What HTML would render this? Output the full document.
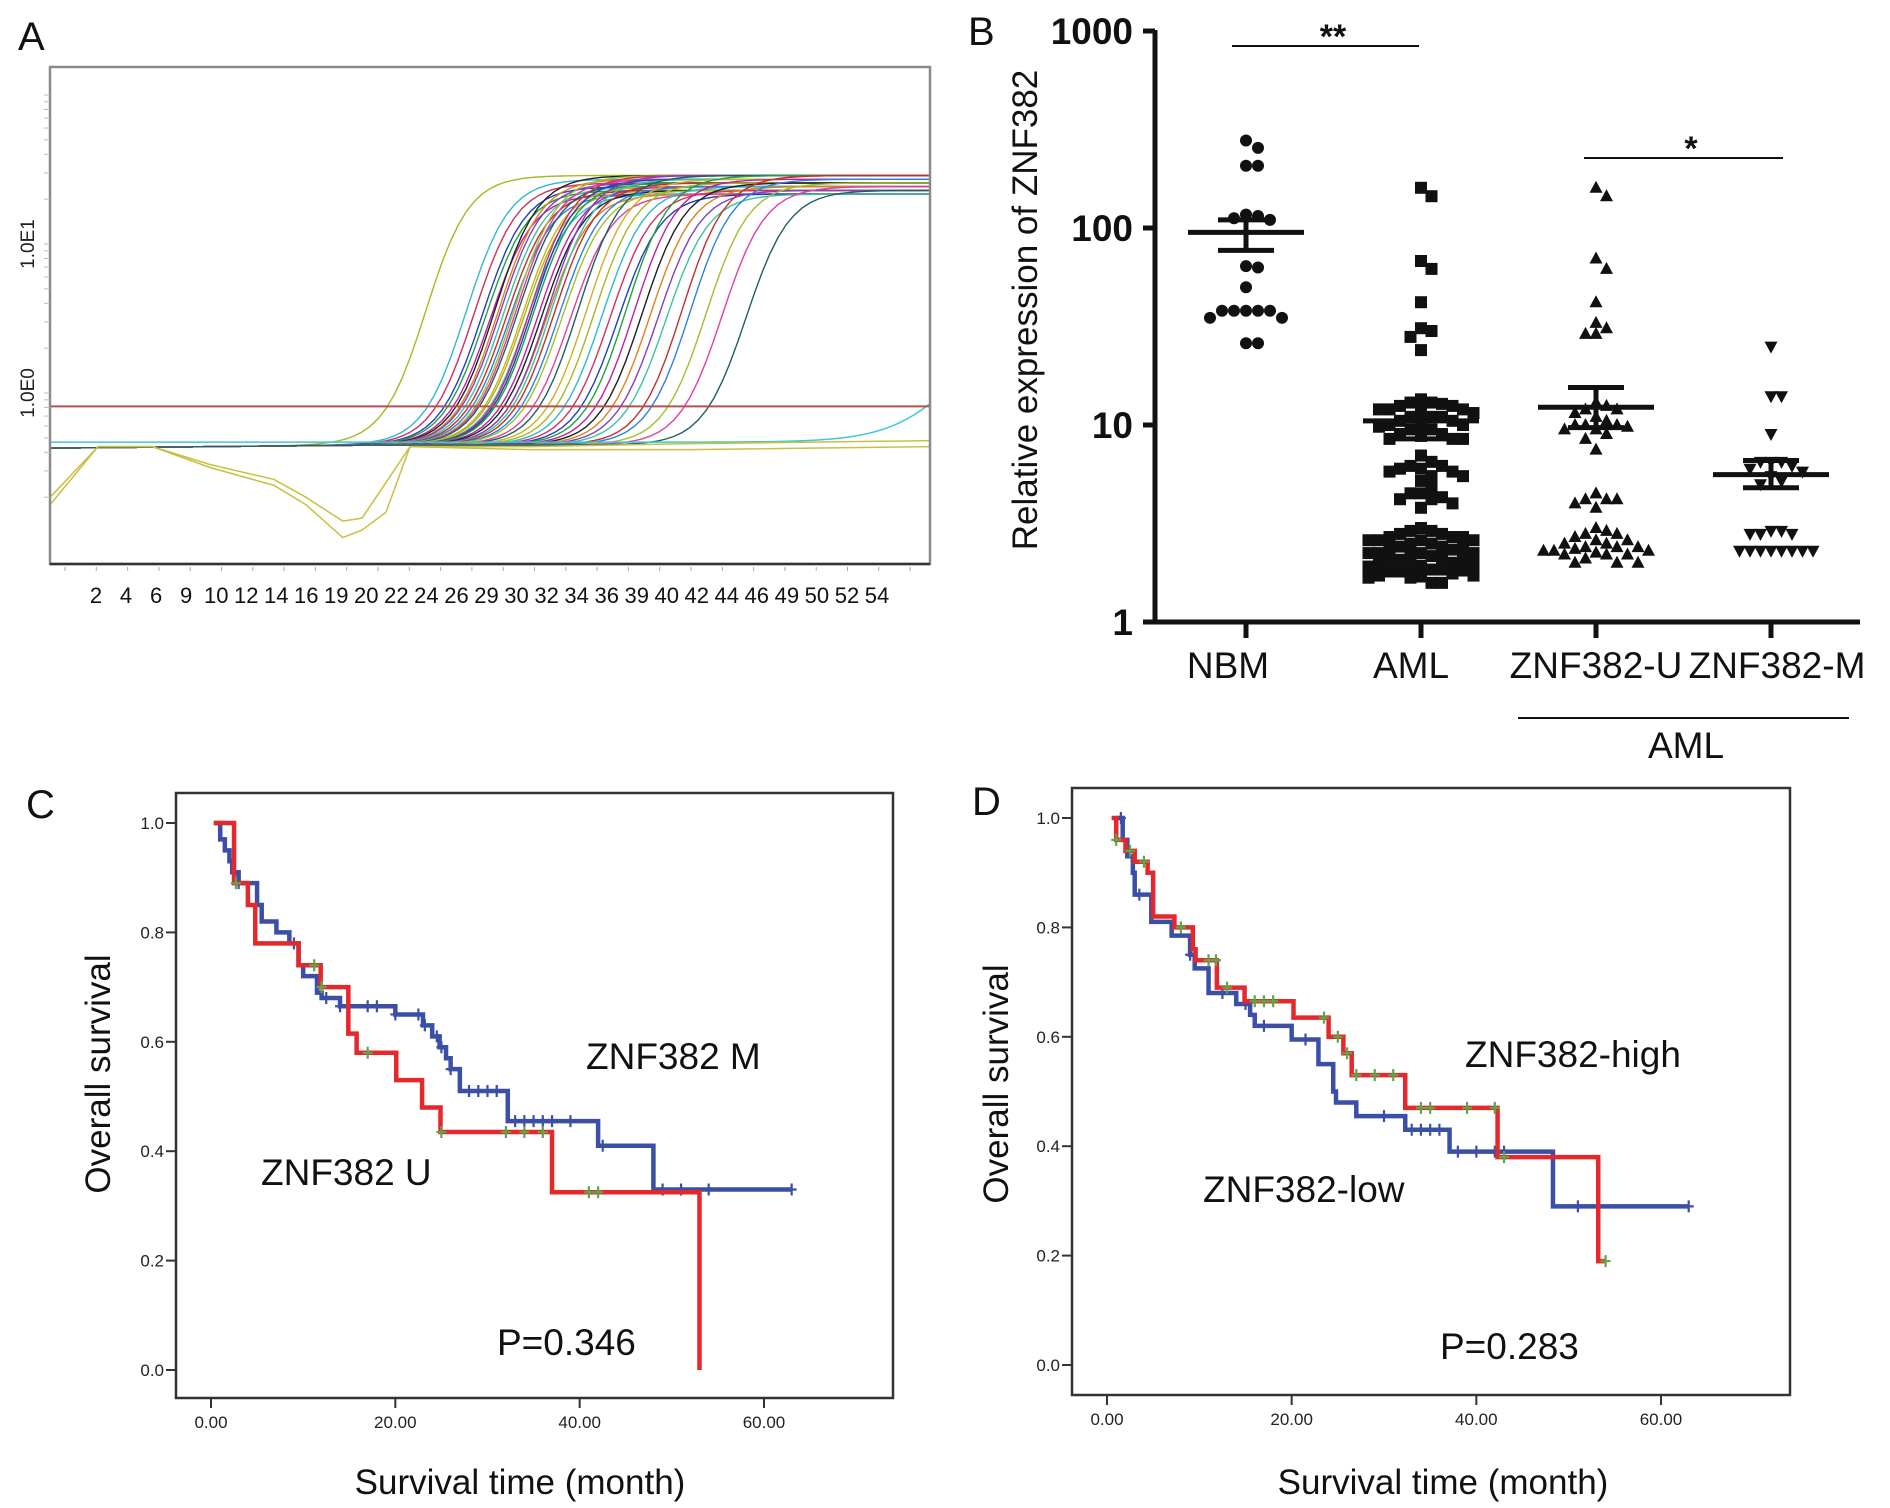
<!DOCTYPE html>
<html><head><meta charset="utf-8"><style>
html,body{margin:0;padding:0;background:#fff}
svg{display:block;font-family:"Liberation Sans",Arial,sans-serif}
</style></head><body>
<svg id="fig" width="1890" height="1508" viewBox="0 0 1890 1508" xmlns="http://www.w3.org/2000/svg">
<rect width="1890" height="1508" fill="#fff"/>
<g id="pa"></g>
<g id="pb"></g>
<g id="pc"></g>
<g id="pd"></g>
</svg>
<script>
// ---------- Panel A data ----------
const aCt = [23.5,26,26.5,27,27.2,27.5,27.8,28,28.1,28.3,28.5,28.7,29,29.1,29.2,29.5,29.6,29.8,30,30.1,30.2,30.5,30.7,31,31.1,31.3,31.5,31.8,32,32.5,33,33.5,34,34.5,35,35.5,36,36.5,37,37.5,38,38.5,39.5,40,41,42,43.5];
const aColors = ["#a8b820","#30b8d0","#d03060","#2040c0","#20a040","#c020a0","#202020","#e08020","#8040c0","#40c0a0","#c03030","#3080e0","#a0c030","#e040a0","#206060","#d0b020"];
const aTickLabels = ["2","4","6","9","10","12","14","16","19","20","22","24","26","29","30","32","34","36","39","40","42","44","46","49","50","52","54"];
const aDipCycles = [0,3,6.4,10,14,16,18.3,19.5,21,22.5,30,40,55];
const aDipLog = [-0.75,-0.36,-0.36,-0.5,-0.62,-0.75,-0.97,-0.92,-0.8,-0.36,-0.36,-0.34,-0.32];
const aDip2Log = [-0.7,-0.36,-0.36,-0.48,-0.58,-0.7,-0.86,-0.84,-0.6,-0.36,-0.38,-0.38,-0.36];
const aThresholdLog = -0.09;

// ---------- Panel B data ----------
const bCategories = ["NBM","AML","ZNF382-U","ZNF382-M"];
const bNBM = [278,255,207,207,115,117,112,110,64,63,50,38,38,38,38,38,35,35,26,26];
const bAML = [160,145,68,62,42,31,30,28,24,13.5,13,13,12.8,12.5,12.5,12,12,12,11.5,11.5,11,11,11,10.5,10.5,10,10,10,9.8,9.5,9.5,9,9,8.8,8.5,8.5,8.5,7,6.5,6.2,6.2,6,6,5.8,5.8,5.5,5.5,5.2,4.8,4.5,4.5,4.3,4.2,4.2,4,3.8,3,2.9,2.9,2.8,2.8,2.7,2.7,2.7,2.6,2.6,2.6,2.6,2.5,2.5,2.5,2.5,2.5,2.45,2.45,2.4,2.4,2.4,2.4,2.4,2.35,2.35,2.3,2.3,2.3,2.3,2.3,2.25,2.25,2.2,2.2,2.2,2.2,2.15,2.15,2.1,2.1,2.1,2.05,2.05,2,2,1.95,1.95];
const bU = [160,145,70,62,42,33,31,29,29,13,12.5,12,12,11.5,11,10.5,10,10,10,9.8,9.5,9.5,9,8.5,7.5,4.5,4.2,4.2,4.2,4,3.8,3,2.9,2.8,2.8,2.7,2.6,2.6,2.5,2.5,2.4,2.4,2.4,2.35,2.3,2.3,2.3,2.25,2.2,2.2,2.2,2.1,2.0,2.0,2.0];
const bM = [25,14,14,9,6.5,6.5,6.5,6.2,6,5.8,5.5,5.2,5,2.9,2.9,2.8,2.8,2.8,2.3,2.3,2.3,2.3,2.3,2.3,2.3,2.3];
const bMeans = [95,10.5,12.3,5.6];
const bSemHi = [110,12.5,15.5,6.6];
const bSemLo = [77,8.5,9.7,4.8];
const bTicks = [1,10,100,1000];

// ---------- Panel C data ----------
const cRedT = [0.3,2.5,4.0,4.8,9.5,11.9,14.9,15.8,20.1,22.9,24.9,37,53];
const cRedS = [1,0.89,0.85,0.78,0.74,0.70,0.615,0.58,0.53,0.48,0.435,0.325,0];
const cRedEnd = 53;
const cRedCens = [2.7,11.2,12,17,25,32,34,36,41,42];
const cBlueT = [0.3,1,1.5,2,2.3,3,5,5.5,7.1,8.5,9.5,10,11.5,12,14,20,23,24,24.8,25.5,26,27,32.2,42,48];
const cBlueS = [1,0.97,0.95,0.93,0.91,0.89,0.85,0.82,0.80,0.78,0.74,0.72,0.69,0.68,0.665,0.65,0.63,0.61,0.59,0.57,0.55,0.51,0.455,0.41,0.33];
const cBlueEnd = 63;
const cBlueCens = [3,9,12.5,14,17,18,20,22.5,23.2,24.5,25,26,28,29,30,31,33,34,35,36,37,39,42.5,49,51,54,63];

// ---------- Panel D data ----------
const dRedT = [0.5,1,2,3,4.4,5,7.3,9.3,9.6,11.9,14.9,20.2,24,25.6,26.5,32.3,42.3,53.2];
const dRedS = [1,0.96,0.94,0.92,0.90,0.82,0.80,0.76,0.74,0.69,0.665,0.635,0.60,0.57,0.53,0.47,0.38,0.19];
const dRedEnd = 54;
const dRedCens = [1,2.5,4,8,11,11.8,13,16,17,18,23.5,25,26,27,29,31,34,35,39,42,43,54];
const dBlueT = [1,1.7,2.2,2.8,3,4.8,7,9,9.5,11,14,15.5,16,20,22.9,24.5,24.8,27,32.3,37.1,48.3];
const dBlueS = [1,0.96,0.93,0.90,0.86,0.81,0.785,0.75,0.725,0.68,0.66,0.64,0.62,0.595,0.55,0.50,0.48,0.455,0.43,0.39,0.29];
const dBlueEnd = 63;
const dBlueCens = [1.5,3.5,9,12.5,15,17,21.5,30,33,34,35,36,38,40,42,43,51,63];
const kmXTicks = [0,20,40,60];
const kmXLabels = ["0.00","20.00","40.00","60.00"];
const kmYTicks = [0,0.2,0.4,0.6,0.8,1.0];

const NS = "http://www.w3.org/2000/svg";
function mk(parent, tag, attrs, text){
  const e = document.createElementNS(NS, tag);
  for (const k in attrs) e.setAttribute(k, attrs[k]);
  if (text !== undefined) e.textContent = text;
  parent.appendChild(e);
  return e;
}

// ================= Panel A =================
(function(){
  const g = document.getElementById('pa');
  const L=50,R=930,T=67,B=564;
  const xA = c => L + c*16;
  const yA = lg => 393 - lg*149;
  let t = mk(g,'text',{x:18,y:50,'font-size':40,fill:'#111'},'A');
  
  
  const clip = mk(g,'clipPath',{id:'clipA'});
  mk(clip,'rect',{x:L,y:T,width:R-L,height:B-T});
  const cg = mk(g,'g',{'clip-path':'url(#clipA)'});
  
  
  aCt.forEach((ct,i)=>{
    const plat = 1.44 - 0.025*(i%6);
    let d='';
    for(let c=0;c<=56;c+=0.5){
      const s = 1/(1+Math.exp(-(c-ct)/1.35));
      const lg = -0.37 + 0.02*Math.min(c,20)/20 + (plat+0.37)*s;
      d += (c===0?'M':'L')+xA(c).toFixed(1)+','+yA(lg).toFixed(1);
    }
    const p = mk(cg,'path',{d:d,fill:'none',stroke:aColors[i%aColors.length],'stroke-width':1.4});
    
    
  });
  let d='';
  for(let c=0;c<=56;c+=0.5){const lg=-0.33+0.9/(1+Math.exp(-(c-57)/2.2));d+=(c===0?'M':'L')+xA(c)+','+yA(lg);}
  let p=mk(cg,'path',{d:d,fill:'none',stroke:'#40c8d8','stroke-width':1.5});
  
  
  [aDipLog,aDip2Log].forEach(arr=>{
    const dd = aDipCycles.map((c,i)=>(i?'L':'M')+xA(c)+','+yA(arr[i])).join('');
    const q=mk(cg,'path',{d:dd,fill:'none',stroke:'#c8c040','stroke-width':1.5});
    
    
  });
  p=mk(g,'line',{x1:L,x2:R,y1:yA(aThresholdLog),y2:yA(aThresholdLog),stroke:'#b85050','stroke-width':2});
  
  
  p=mk(g,'rect',{x:L,y:T,width:R-L,height:B-T,fill:'none',stroke:'#8a8a8a','stroke-width':2.5});
  
  
  mk(g,'line',{x1:L,x2:R,y1:B,y2:B,stroke:'#333','stroke-width':2.5});
  for(let i=0;i<28;i++){mk(g,'line',{x1:65+i*31.3,x2:65+i*31.3,y1:B+3,y2:B+7,stroke:'#aaa','stroke-width':1});}
  for(let k=-1;k<=1;k++){for(let m=2;m<=10;m++){const yy=yA(k+Math.log10(m));if(yy>T&&yy<B)mk(g,'line',{x1:L-6,x2:L,y1:yy,y2:yy,stroke:'#bbb','stroke-width':1});}}
  aTickLabels.forEach((s,i)=>{
    const n=aTickLabels.length;
    const tx = mk(g,'text',{x:(96+ (877-96)*i/(n-1)).toFixed(1),y:603,'font-size':22,'text-anchor':'middle',fill:'#111'},s);
    
    
  });
  [['1.0E1',1],['1.0E0',0]].forEach(([s,lg])=>{
    const tx=mk(g,'text',{x:0,y:0,'font-size':19,'text-anchor':'middle',fill:'#222',transform:`translate(34,${yA(lg)}) rotate(-90)`},s);
    
    
  });
})();

// ================= Panel B =================
(function(){
  const g = document.getElementById('pb');
  const AX=1155, AXR=1860;
  const yB = v => 622 - Math.log10(v)*197;
  const xCat = [1246,1421,1596,1771];
  let t=mk(g,'text',{x:968,y:45,'font-size':40,fill:'#111'},'B');
  
  
  mk(g,'line',{x1:AX,x2:AX,y1:30,y2:624,stroke:'#111','stroke-width':5});
  let ax=mk(g,'line',{x1:AX-2,x2:AXR,y1:622,y2:622,stroke:'#111','stroke-width':5});
  
  
  bTicks.forEach(v=>{
    mk(g,'line',{x1:AX-12,x2:AX,y1:yB(v),y2:yB(v),stroke:'#111','stroke-width':5});
    const tx=mk(g,'text',{x:AX-22,y:yB(v)+13,'font-size':37,'font-weight':'bold','text-anchor':'end',fill:'#111'},String(v));
    
    
  });
  t=mk(g,'text',{x:0,y:0,'font-size':35,'text-anchor':'middle',fill:'#111',transform:'translate(1037,310) rotate(-90)'},'Relative expression of ZNF382');
  
  
  bCategories.forEach((c,i)=>{
    mk(g,'line',{x1:xCat[i],x2:xCat[i],y1:622,y2:638,stroke:'#111','stroke-width':5});
    const tx=mk(g,'text',{x:xCat[i]+(i===0?-18:i===1?-10:i===3?6:0),y:678,'font-size':37,'text-anchor':'middle',fill:'#111'},c);
    
    
  });
  let l=mk(g,'line',{x1:1518,x2:1849,y1:718,y2:718,stroke:'#111','stroke-width':2});
  
  
  t=mk(g,'text',{x:1686,y:758,'font-size':37,'text-anchor':'middle',fill:'#111'},'AML');
  
  
  l=mk(g,'line',{x1:1232,x2:1419,y1:46,y2:46,stroke:'#111','stroke-width':2});
  
  
  t=mk(g,'text',{x:1333,y:48,'font-size':34,'font-weight':'bold','text-anchor':'middle',fill:'#111'},'**');
  
  
  l=mk(g,'line',{x1:1584,x2:1783,y1:158,y2:158,stroke:'#111','stroke-width':2});
  
  
  t=mk(g,'text',{x:1691,y:160,'font-size':34,'font-weight':'bold','text-anchor':'middle',fill:'#111'},'*');
  
  

  function swarm(vals, cx, coll, maxHalf){
    const placed=[];
    const sorted=vals.slice().sort((a,b)=>b-a);
    const step=coll;
    sorted.forEach(v=>{
      const y0=yB(v);
      let done=false;
      for(let j=0;j<12&&!done;j++){
        const y = y0 + (j===0?0:(j%2?1:-1)*Math.ceil(j/2)*3);
        for(let k=0;k<40;k++){
          const off=(k===0?0:(k%2?1:-1)*Math.ceil(k/2))*step;
          if(Math.abs(off)>maxHalf) break;
          const x=cx+off;
          if(!placed.some(p=>Math.abs(p[0]-x)<coll&&Math.abs(p[1]-y)<coll)){placed.push([x,y]);done=true;break;}
        }
      }
      if(!done) placed.push([cx+((placed.length%9)-4)*12,y0]);
    });
    return placed;
  }
  const groups=[bNBM,bAML,bU,bM];
  const shapes=['circle','square','tri','itri'];
  groups.forEach((vals,gi)=>{
    const gg=mk(g,'g',{});
    
    
    swarm(vals,xCat[gi],gi===0?12:10.5,62).forEach(([x,y])=>{
      let e;
      const s=shapes[gi];
      if(s==='circle') e=mk(gg,'circle',{cx:x,cy:y,r:6,fill:'#111'});
      else if(s==='square') e=mk(gg,'rect',{x:x-6,y:y-6,width:12,height:12,fill:'#111'});
      else if(s==='tri') e=mk(gg,'path',{d:`M${x},${y-7}L${x+6.5},${y+5}L${x-6.5},${y+5}Z`,fill:'#111'});
      else e=mk(gg,'path',{d:`M${x},${y+7}L${x+6.5},${y-5}L${x-6.5},${y-5}Z`,fill:'#111'});
      
      
    });
    const cx=xCat[gi];
    let m=mk(g,'line',{x1:cx-58,x2:cx+58,y1:yB(bMeans[gi]),y2:yB(bMeans[gi]),stroke:'#111','stroke-width':5});
    
    
    mk(g,'line',{x1:cx,x2:cx,y1:yB(bSemHi[gi]),y2:yB(bSemLo[gi]),stroke:'#111','stroke-width':5});
    [bSemHi[gi],bSemLo[gi]].forEach(v=>{
      const s=mk(g,'line',{x1:cx-28,x2:cx+28,y1:yB(v),y2:yB(v),stroke:'#111','stroke-width':5});
      
      
    });
  });
})();

// ================= KM panels =================
function km(gid, box, x0, y1, y0, cfg){
  const g=document.getElementById(gid);
  const perM=(cfg.x60-x0)/60;
  const xS=t=>x0+t*perM;
  const yS=s=>y0-(y0-y1)*s;
  let t=mk(g,'text',{x:cfg.labX,y:cfg.labY,'font-size':40,fill:'#111'},cfg.letter);
  
  
  let f=mk(g,'rect',{x:box[0],y:box[1],width:box[2]-box[0],height:box[3]-box[1],fill:'none',stroke:'#333','stroke-width':2.5});
  
  
  kmYTicks.forEach(v=>{
    mk(g,'line',{x1:box[0]-10,x2:box[0],y1:yS(v),y2:yS(v),stroke:'#333','stroke-width':2});
    const tx=mk(g,'text',{x:box[0]-12,y:yS(v)+6,'font-size':17,'text-anchor':'end',fill:'#222'},v.toFixed(1));
    
    
  });
  kmXTicks.forEach((v,i)=>{
    mk(g,'line',{x1:xS(v),x2:xS(v),y1:box[3],y2:box[3]+10,stroke:'#333','stroke-width':2});
    const tx=mk(g,'text',{x:xS(v),y:box[3]+30,'font-size':17,'text-anchor':'middle',fill:'#222'},kmXLabels[i]);
    
    
  });
  t=mk(g,'text',{x:0,y:0,'font-size':35,'text-anchor':'middle',fill:'#111',transform:`translate(${cfg.ytX},${cfg.ytY}) rotate(-90)`},'Overall survival');
  
  
  t=mk(g,'text',{x:cfg.xtX,y:1494,'font-size':35,'text-anchor':'middle',fill:'#111'},'Survival time (month)');
  
  
  function curve(T,S,end,cens,color,censColor,name){
    let d=`M${xS(T[0])},${yS(S[0])}`;
    for(let i=1;i<T.length;i++){d+=`H${xS(T[i])}V${yS(S[i])}`;}
    d+=`H${xS(end)}`;
    const p=mk(g,'path',{d:d,fill:'none',stroke:color,'stroke-width':4.5});
    
    
    cens.forEach(c=>{
      let k=0;for(let i=0;i<T.length;i++){if(T[i]<=c)k=i;}
      const x=xS(c), y=yS(S[k]);
      const m=mk(g,'path',{d:`M${x},${y-6}V${y+6}M${x-5},${y}H${x+5}`,stroke:censColor,'stroke-width':2.2,fill:'none'});
      
      
    });
  }
  curve(cfg.bT,cfg.bS,cfg.bEnd,cfg.bC,'#3b4fa6','#3b4fa6',cfg.bName);
  curve(cfg.rT,cfg.rS,cfg.rEnd,cfg.rC,'#e5282c','#5aa84a',cfg.rName);
  cfg.texts.forEach(([s,x,y,n])=>{
    const tx=mk(g,'text',{x:x,y:y,'font-size':37,fill:'#111'},s);
    
    
  });
}
km('pc',[176,793,893,1398],211,823,1370,{x60:764,letter:'C',labX:26,labY:818,ytX:110,ytY:1074,xtX:520,
  bT:cBlueT,bS:cBlueS,bEnd:cBlueEnd,bC:cBlueCens,bName:'survival-curve-znf382-m',
  rT:cRedT,rS:cRedS,rEnd:cRedEnd,rC:cRedCens,rName:'survival-curve-znf382-u',
  texts:[['ZNF382 M',586,1069,'series-label-m'],['ZNF382 U',261,1185,'series-label-u'],['P=0.346',497,1355,'p-value']]});
km('pd',[1072,788,1790,1395],1107,818,1365,{x60:1661,letter:'D',labX:972,labY:815,ytX:1008,ytY:1084,xtX:1443,
  bT:dBlueT,bS:dBlueS,bEnd:dBlueEnd,bC:dBlueCens,bName:'survival-curve-low',
  rT:dRedT,rS:dRedS,rEnd:dRedEnd,rC:dRedCens,rName:'survival-curve-high',
  texts:[['ZNF382-high',1465,1067,'series-label-high'],['ZNF382-low',1203,1202,'series-label-low'],['P=0.283',1440,1359,'p-value']]});
</script>
</body></html>
